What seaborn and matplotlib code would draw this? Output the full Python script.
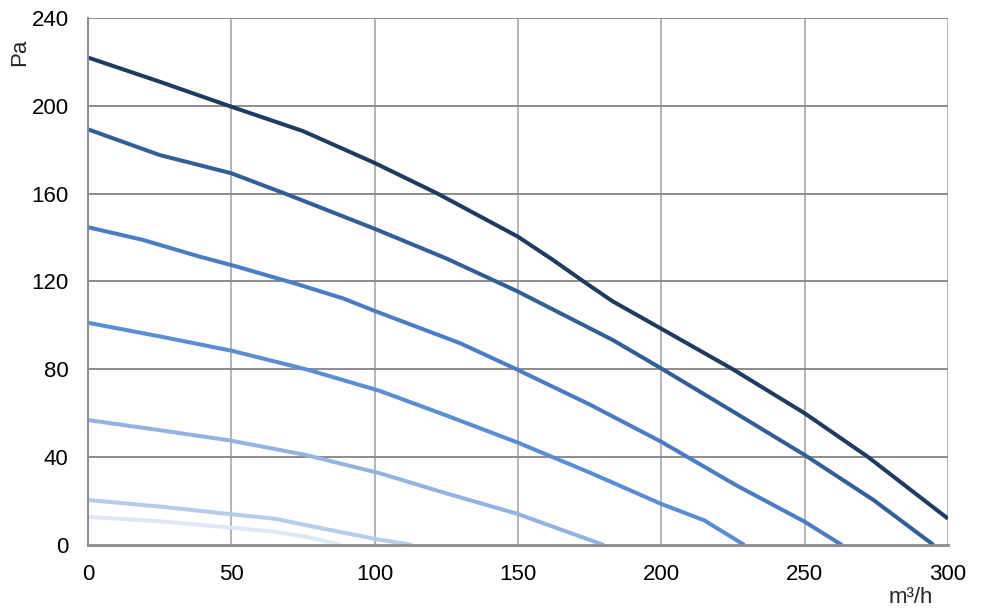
import pandas as pd
import seaborn as sns
import matplotlib.pyplot as plt

# Fan curves (flow m3/h, pressure Pa)
x1 = [0, 25, 50, 75, 100, 122, 150, 162, 174, 183, 200, 225, 250, 272, 300]
y1 = [222, 211, 199.6, 188.5, 174, 160, 140.4, 130, 119, 111, 98.5, 80, 60, 40.2, 12]

x2 = [0, 25, 50, 70, 100, 125, 150, 183, 200, 226, 250, 274, 295]
y2 = [189.3, 177.6, 169.3, 159.4, 144, 130.5, 115.4, 93.4, 80.4, 60, 41, 20.5, 0]

x3 = [0, 19, 39, 50, 72, 89, 100, 130, 150, 175, 200, 226, 250, 263]
y3 = [144.7, 139, 131.3, 127.5, 119.2, 112.3, 106.6, 91.8, 79.7, 64, 47, 27.3, 10.6, 0]

x4 = [0, 25, 50, 77, 102, 125, 150, 175, 200, 215, 229]
y4 = [101.2, 95, 88.5, 79.7, 70.1, 59, 46.6, 33, 18.7, 11.2, 0]

x5 = [0, 25, 50, 76, 102, 125, 150, 165, 180]
y5 = [56.9, 52.3, 47.5, 41, 32.6, 23.5, 14.1, 7, 0]

x6 = [0, 25, 50, 65, 80, 100, 113]
y6 = [20.5, 17.5, 14, 12, 8, 2.8, 0]

x7 = [0, 25, 50, 65, 75, 82, 88]
y7 = [12.8, 10.8, 7.9, 6, 4, 2, 0]

curve_x = [x1, x2, x3, x4, x5, x6, x7]
curve_y = [y1, y2, y3, y4, y5, y6, y7]
colors = ["#1f3b60", "#335f98", "#4a7dc4", "#5a8ed4", "#93b4e2", "#b7cce9", "#dde8f5"]

rows = []
for i, (xs, ys) in enumerate(zip(curve_x, curve_y)):
    for xv, yv in zip(xs, ys):
        rows.append({"flow": xv, "pressure": yv, "curve": f"c{i + 1}"})
df = pd.DataFrame(rows)

sns.set_style("white")
plt.rcParams["font.family"] = ["Liberation Sans", "DejaVu Sans"]

fig = plt.figure(figsize=(9.85, 6.12), dpi=100)
ax = fig.add_axes([0.0893, 0.1095, 0.8731, 0.8611])

# gridlines
for xv in range(0, 301, 50):
    ax.axvline(xv, color="#b4b4b4", lw=1.4, zorder=0)
for yv in range(40, 241, 40):
    ax.axhline(yv, color="#8c8c8c", lw=1.4, zorder=0)

sns.lineplot(data=df, x="flow", y="pressure", hue="curve", palette=colors,
             linewidth=2.9, legend=False, ax=ax, sort=True, estimator=None)
for line in ax.get_lines():
    line.set_solid_joinstyle("round")
    line.set_solid_capstyle("butt")

ax.set_xlim(0, 300)
ax.set_ylim(0, 240)
ax.set_xticks(range(0, 301, 50))
ax.set_yticks(range(0, 241, 40))
ax.set_xlabel("")
ax.set_ylabel("")

for side in ["top", "right"]:
    ax.spines[side].set_visible(False)
ax.spines["left"].set_color("#8c8c8c")
ax.spines["left"].set_linewidth(1.4)
ax.spines["bottom"].set_color("#8c8c8c")
ax.spines["bottom"].set_linewidth(2)
ax.tick_params(axis="both", which="both", direction="out", length=6, width=1.4,
               colors="#8c8c8c", labelcolor="black", labelsize=16, pad=8)

fig.text(0.009, 0.915, "Pa", rotation=90, fontsize=16, ha="left", va="center")
fig.text(0.925, 0.0245, "m³/h", fontsize=16, ha="center", va="center")

plt.savefig("out.png", dpi=100)
